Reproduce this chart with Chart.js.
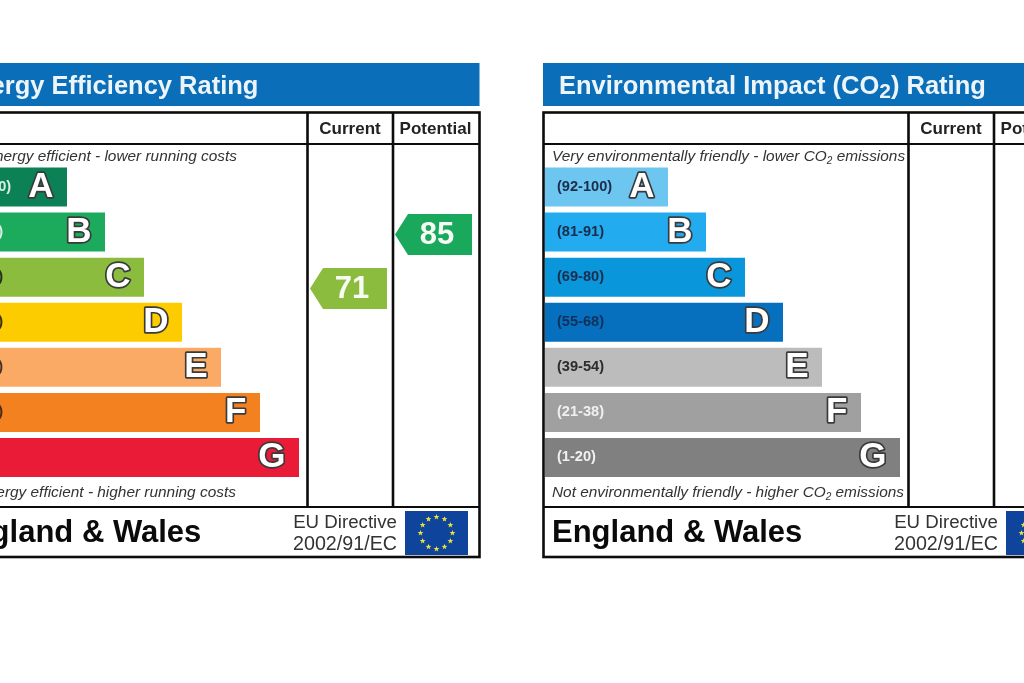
<!DOCTYPE html>
<html lang="en">
<head>
    <meta charset="UTF-8">
    <title>EPC Ratings</title>
    <script src="https://cdn.jsdelivr.net/npm/chart.js@4/dist/chart.umd.min.js"></script>
    <style>
        html, body { margin: 0; padding: 0; background: #fff; width: 1024px; height: 683px; overflow: hidden; }
        canvas { position: absolute; top: 0; filter: blur(0.4px); }
        #energyChart { left: -60px; }
        #co2Chart { left: 541px; }
    </style>
</head>
<body>
    <canvas id="energyChart" width="541" height="683"></canvas>
    <canvas id="co2Chart" width="541" height="683"></canvas>

    <script>
        // Data
        const bandLetters = ['A', 'B', 'C', 'D', 'E', 'F', 'G'];
        const bandRanges = ['(92-100)', '(81-91)', '(69-80)', '(55-68)', '(39-54)', '(21-38)', '(1-20)'];
        const bandLengths = [123, 161, 200, 238, 277, 316, 355];

        const energyColors = ['#0c8155', '#1cab5c', '#8cbc3e', '#fdcc00', '#fbaa65', '#f4811f', '#ea1b37'];
        const energyRangeColors = ['#d8efe2', '#d8efe2', '#23301a', '#3a3000', '#4a3020', '#4a2a10', '#ffffff'];
        const co2Colors = ['#6dc6f0', '#22abee', '#0a96da', '#0670bf', '#bcbcbc', '#a0a0a0', '#808080'];
        const co2RangeColors = ['#1c2c4c', '#1c2c4c', '#1c2c4c', '#12305c', '#2c2c2c', '#f0f0f0', '#f0f0f0'];

        const currentRating = 71;
        const potentialRating = 85;
        const currentColor = '#8cbc3e';
        const potentialColor = '#1aa85c';

        // Layout inside a panel canvas
        const FRAME_L = 2, FRAME_R = 539, FRAME_T = 112.5, FRAME_B = 557;
        const COL_1 = 367.5, COL_2 = 453, HEAD_B = 144, FOOT_T = 507;
        const AREA_L = 4;
        const ARROW_W = 77, ARROW_H = 41, ARROW_TIP = 13;
        const SANS = '"Liberation Sans", Arial, sans-serif';

        // text with a subscript part: [text, isSub]
        function drawRuns(ctx, runs, x, y, font, subFont, subDrop) {
            ctx.textAlign = 'left';
            runs.forEach(run => {
                ctx.font = run[1] ? subFont : font;
                ctx.fillText(run[0], x, run[1] ? y + subDrop : y);
                x += ctx.measureText(run[0]).width;
            });
        }

        function drawStar(ctx, cx, cy, r) {
            ctx.beginPath();
            for (let i = 0; i < 10; i++) {
                const a = -Math.PI / 2 + i * Math.PI / 5;
                const rr = i % 2 ? r * 0.42 : r;
                ctx.lineTo(cx + rr * Math.cos(a), cy + rr * Math.sin(a));
            }
            ctx.closePath();
            ctx.fill();
        }

        const framePlugin = {
            id: 'frame',
            beforeDraw(chart, args, opts) {
                const ctx = chart.ctx;
                ctx.save();

                // title strip
                ctx.fillStyle = '#0a6eb9';
                ctx.fillRect(FRAME_L, 63, FRAME_R - FRAME_L + 0.5, 43);
                ctx.fillStyle = '#eef5fa';
                ctx.textBaseline = 'alphabetic';
                drawRuns(ctx, opts.title, 18, 94, 'bold 25.5px ' + SANS, 'bold 21px ' + SANS, 4);

                // box lines
                ctx.strokeStyle = '#0c0c0c';
                ctx.lineWidth = 2.6;
                ctx.strokeRect(FRAME_L + 0.5, FRAME_T, FRAME_R - FRAME_L, FRAME_B - FRAME_T);
                ctx.beginPath();
                ctx.moveTo(COL_1, FRAME_T); ctx.lineTo(COL_1, FOOT_T);
                ctx.moveTo(COL_2, FRAME_T); ctx.lineTo(COL_2, FOOT_T);
                ctx.stroke();
                ctx.lineWidth = 2;
                ctx.beginPath();
                ctx.moveTo(FRAME_L, HEAD_B); ctx.lineTo(FRAME_R, HEAD_B);
                ctx.moveTo(FRAME_L, FOOT_T); ctx.lineTo(FRAME_R, FOOT_T);
                ctx.stroke();

                // column heads
                ctx.fillStyle = '#222';
                ctx.font = 'bold 17px ' + SANS;
                ctx.textAlign = 'center';
                ctx.fillText('Current', 410, 133.5);
                ctx.fillText('Potential', 495.5, 133.5);

                // top and bottom captions
                ctx.fillStyle = '#333';
                const it = 'italic 15.4px ' + SANS;
                const itSub = 'italic 10px ' + SANS;
                drawRuns(ctx, opts.topNote, 11, 161, it, itSub, 3);
                drawRuns(ctx, opts.bottomNote, 11, 497, it, itSub, 3);

                // footer
                ctx.fillStyle = '#0a0a0a';
                ctx.font = 'bold 31px ' + SANS;
                ctx.textAlign = 'left';
                ctx.fillText('England & Wales', 11, 542);
                ctx.fillStyle = '#333';
                ctx.font = '18.7px ' + SANS;
                ctx.textAlign = 'right';
                ctx.fillText('EU Directive', 457, 528);
                ctx.font = '19.7px ' + SANS;
                ctx.fillText('2002/91/EC', 457, 550);

                // EU flag
                ctx.fillStyle = '#0f449c';
                ctx.fillRect(465, 511, 63, 44);
                ctx.fillStyle = '#e8e23a';
                for (let i = 0; i < 12; i++) {
                    const a = i * Math.PI / 6;
                    drawStar(ctx, 496.5 + 16 * Math.sin(a), 533 - 16 * Math.cos(a), 3);
                }
                ctx.restore();
            },
            afterDatasetsDraw(chart, args, opts) {
                const ctx = chart.ctx;
                ctx.save();
                ctx.textBaseline = 'middle';

                // band letters
                ctx.textAlign = 'right';
                ctx.font = 'bold 35px ' + SANS;
                ctx.lineJoin = 'round';
                chart.getDatasetMeta(0).data.forEach((bar, i) => {
                    ctx.strokeStyle = '#3a3a3a';
                    ctx.lineWidth = 3.4;
                    ctx.strokeText(bandLetters[i], bar.x - 13.5, bar.y);
                    ctx.fillStyle = '#fff';
                    ctx.fillText(bandLetters[i], bar.x - 13.5, bar.y);
                });

                // rating arrows, placed on the hidden rating scale
                opts.ratings.forEach(r => {
                    const y = chart.scales.y2.getPixelForValue(r.value);
                    const right = r.right;
                    const left = right - ARROW_W;
                    ctx.fillStyle = r.color;
                    ctx.beginPath();
                    ctx.moveTo(left, y);
                    ctx.lineTo(left + ARROW_TIP, y - ARROW_H / 2);
                    ctx.lineTo(right, y - ARROW_H / 2);
                    ctx.lineTo(right, y + ARROW_H / 2);
                    ctx.lineTo(left + ARROW_TIP, y + ARROW_H / 2);
                    ctx.closePath();
                    ctx.fill();
                    ctx.textAlign = 'center';
                    ctx.font = 'bold 31px ' + SANS;
                    ctx.fillStyle = '#f6fbf4';
                    ctx.fillText(String(r.value), left + 42, y + 1);
                });
                ctx.restore();
            }
        };

        function makePanel(id, colors, rangeColors, texts) {
            return new Chart(document.getElementById(id), {
                type: 'bar',
                data: {
                    labels: bandRanges,
                    datasets: [{
                        data: bandLengths,
                        backgroundColor: colors,
                        barPercentage: 39 / 45.07,
                        categoryPercentage: 1
                    }]
                },
                options: {
                    indexAxis: 'y',
                    responsive: false,
                    animation: false,
                    layout: { padding: { left: AREA_L, right: 0, top: 164.5, bottom: 203 } },
                    plugins: {
                        legend: { display: false },
                        tooltip: { enabled: false },
                        frame: texts
                    },
                    scales: {
                        x: { display: false, min: 0, max: 537 },
                        y: {
                            position: 'left',
                            afterFit: scale => { scale.width = 0; },
                            grid: { display: false },
                            border: { display: false },
                            ticks: {
                                z: 1,
                                mirror: true,
                                padding: 12,
                                font: { family: 'Liberation Sans', size: 14.6, weight: 'bold' },
                                color: c => rangeColors[c.index]
                            }
                        },
                        // hidden rating scale for the arrows
                        y2: { type: 'linear', offset: false, display: false, min: 21.4, max: 103.15 }
                    }
                },
                plugins: [framePlugin]
            });
        }

        makePanel('energyChart', energyColors, energyRangeColors, {
            title: [['Energy Efficiency Rating', false]],
            topNote: [['Very energy efficient - lower running costs', false]],
            bottomNote: [['Not energy efficient - higher running costs', false]],
            ratings: [
                { value: currentRating, color: currentColor, right: 447 },
                { value: potentialRating, color: potentialColor, right: 532 }
            ]
        });

        makePanel('co2Chart', co2Colors, co2RangeColors, {
            title: [['Environmental Impact (CO', false], ['2', true], [') Rating', false]],
            topNote: [['Very environmentally friendly - lower CO', false], ['2', true], [' emissions', false]],
            bottomNote: [['Not environmentally friendly - higher CO', false], ['2', true], [' emissions', false]],
            ratings: []
        });
    </script>
</body>
</html>
